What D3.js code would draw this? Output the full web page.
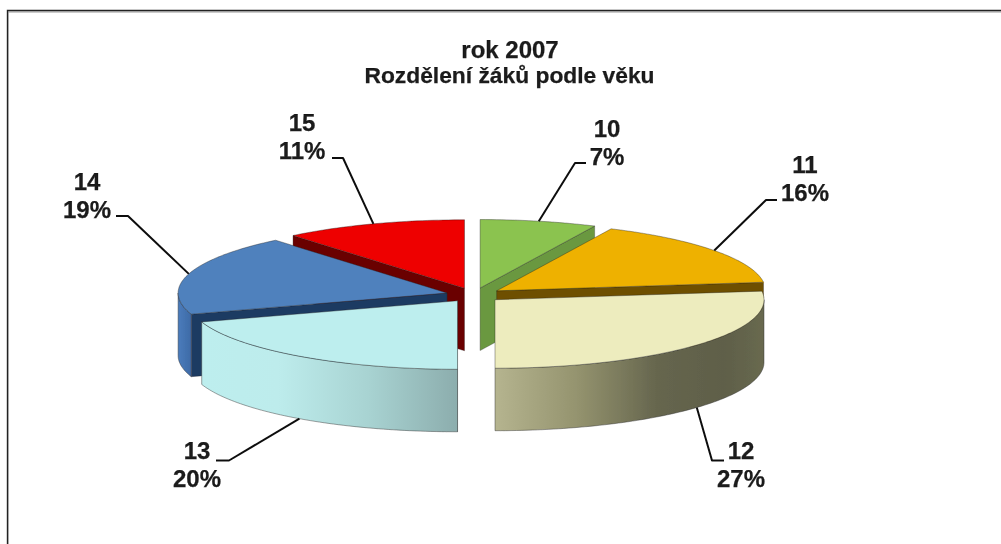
<!DOCTYPE html>
<html><head><meta charset="utf-8">
<script src="https://cdn.jsdelivr.net/npm/d3@7"></script>
<style>html,body{margin:0;padding:0;background:#fff}svg{display:block}
text{font-family:"Liberation Sans",Arial,sans-serif;font-weight:700;fill:#1a1a1a;text-anchor:middle;stroke:#1a1a1a;stroke-width:.25}</style>
</head><body>
<script>
const titleLines = ["rok 2007", "Rozdělení žáků podle věku"];
const categories = ["10", "11", "12", "13", "14", "15"];
const values = [7, 16, 27, 20, 19, 11];
const topColors = ["#8bc34f", "#eeb100", "#edecbe", "#bdeeee", "#4f81bd", "#ee0000"];
const edgeColors = ["#6a983f", "#6e4f00", "#77775c", "#8fb1b1", "#1f3a62", "#6b0000"];
const rimStops = [
  [["0", "#6f9f45"]],
  [["0", "#7a5a08"]],
  [["0", "#b5b48f"], [".3", "#95946f"], [".6", "#66664e"], [".85", "#5f5f49"], ["1", "#68694f"]],
  [["0", "#bdeeee"], [".3", "#bdecec"], [".65", "#a8d3d2"], ["1", "#8cadad"]],
  [["0", "#4a7cbc"], ["1", "#3e6aa6"]],
  [["0", "#8a0000"]]
];
const drawOrder = [5, 0, 4, 1, 3, 2];
// Label text anchors and leader elbows, in page pixels, by category
const labelXs = [607, 805, 741, 197, 87, 302];
const labelYs = [137, 173, 459, 459, 190, 131];
const elbowNear = [[586, 163], [777, 200], [724, 460.5], [216, 460.5], [116, 216], [332, 158]];
const elbowFar = [[575, 163], [766, 200], [712, 460.5], [229, 460.5], [128, 216], [343, 158]];

const W = 1001, H = 544;
const cx = 474, cy = 295, rx = 269, ry = 68.5, depth = 62.5, explode = 28;

const svg = d3.select("body").append("svg").attr("width", W).attr("height", H).attr("viewBox", `0 0 ${W} ${H}`);
const defs = svg.append("defs");
defs.append("filter").attr("id", "soft")
  .attr("filterUnits", "userSpaceOnUse").attr("x", 0).attr("y", 0).attr("width", W).attr("height", H)
  .append("feGaussianBlur").attr("stdDeviation", 0.45);

const root = svg.append("g").attr("filter", "url(#soft)");

// frame
root.append("path").attr("d", `M8,${H}V12H${W}`).attr("fill", "none").attr("stroke", "#bbb").attr("stroke-width", 1.5);
root.append("path").attr("d", `M7.5,${H}V10.5H${W}`).attr("fill", "none").attr("stroke", "#222").attr("stroke-width", 1.4);

const pie = d3.pie().sort(null).value(d => d).startAngle(0).endAngle(2 * Math.PI);
const arcs = pie(values);
const tau = 2 * Math.PI;

const sx = d3.scaleLinear().domain([-1, 1]).range([-rx, rx]);
const sy = d3.scaleLinear().domain([-1, 1]).range([-ry, ry]);
const line = d3.line();

function apexOf(a) {
  const mid = (a.startAngle + a.endAngle) / 2;
  return [cx + sx(Math.sin(mid)) * explode / rx, cy - sy(Math.cos(mid)) * explode / rx];
}
function rimPt(ap, t, dz = 0) {
  return [ap[0] + sx(Math.sin(t)), ap[1] - sy(Math.cos(t)) + dz];
}
function sampled(t0, t1) {
  const n = Math.max(2, Math.ceil((t1 - t0) / 0.02));
  return d3.range(n + 1).map(i => t0 + (t1 - t0) * i / n);
}

drawOrder.forEach(i => {
  const a = arcs[i], ap = apexOf(a), g = root.append("g").attr("class", "slice");
  const t0 = a.startAngle, t1 = a.endAngle;

  // radial faces that turn towards the viewer
  [[t0, t0 > Math.PI && t0 < tau], [t1, t1 > 0 && t1 < Math.PI]].forEach(([t, show]) => {
    if (!show) return;
    const c = rimPt(ap, t);
    g.append("path")
      .attr("d", line([c, ap, [ap[0], ap[1] + depth], [c[0], c[1] + depth]]) + "Z")
      .attr("fill", edgeColors[i]).attr("stroke", "#222").attr("stroke-opacity", .5).attr("stroke-width", .6);
  });

  // outer rim: only the front half of the ellipse
  const fa = Math.max(t0, Math.PI / 2), fb = Math.min(t1, 3 * Math.PI / 2);
  if (fb > fa) {
    const ts = sampled(fa, fb);
    const gid = "rim" + i;
    const xs = ts.map(t => rimPt(ap, t)[0]);
    const grad = defs.append("linearGradient").attr("id", gid).attr("gradientUnits", "userSpaceOnUse")
      .attr("x1", d3.min(xs)).attr("x2", d3.max(xs)).attr("y1", 0).attr("y2", 0);
    rimStops[i].forEach(([o, c]) => grad.append("stop").attr("offset", o).attr("stop-color", c));
    const upper = ts.map(t => rimPt(ap, t));
    const lower = ts.slice().reverse().map(t => rimPt(ap, t, depth));
    g.append("path").attr("d", line(upper.concat(lower)) + "Z")
      .attr("fill", `url(#${gid})`).attr("stroke", "#333").attr("stroke-opacity", .65).attr("stroke-width", .7);
  }

  // top face
  const top = [ap].concat(sampled(t0, t1).map(t => rimPt(ap, t)));
  g.append("path").attr("d", line(top) + "Z")
    .attr("fill", topColors[i]).attr("stroke", "#222").attr("stroke-opacity", .55).attr("stroke-width", .7)
    .attr("stroke-linejoin", "round");
});

// leaders
arcs.forEach((a, i) => {
  const mid = (a.startAngle + a.endAngle) / 2, ap = apexOf(a);
  const front = Math.cos(mid) < 0;
  const start = rimPt(ap, mid, front ? depth : 0);
  root.append("path").attr("d", line([elbowNear[i], elbowFar[i], start]))
    .attr("fill", "none").attr("stroke", "#111").attr("stroke-width", 2).attr("stroke-linejoin", "round");
});

// labels
const fs = 24, gap = 27.5;
arcs.forEach((a, i) => {
  const t = root.append("text").attr("font-size", fs);
  t.append("tspan").attr("x", labelXs[i]).attr("y", labelYs[i]).text(categories[i]);
  t.append("tspan").attr("x", labelXs[i]).attr("y", labelYs[i] + gap).text(d3.format(".0%")(a.data / 100));
});

// title
root.append("text").attr("x", 510).attr("y", 58).attr("font-size", 24).text(titleLines[0]);
root.append("text").attr("x", 509.5).attr("y", 83).attr("font-size", 22.8).text(titleLines[1]);
</script>
</body></html>
